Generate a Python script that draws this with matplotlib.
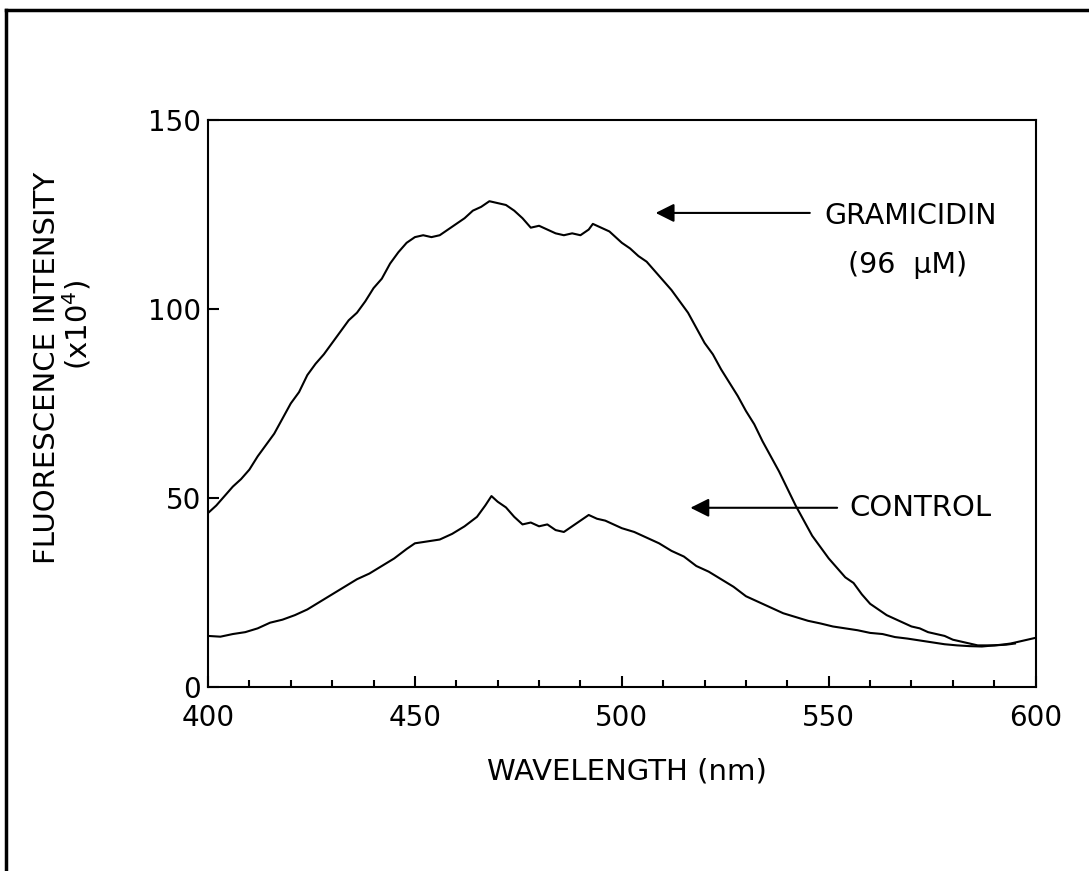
import matplotlib
matplotlib.use("Agg")
from matplotlib import pyplot as plt
from matplotlib.lines import Line2D
from matplotlib.ticker import MultipleLocator

# Gramicidin (96 uM) spectrum
gram_nm = [400, 402, 404, 406, 408, 410, 412, 414, 416, 418, 420, 422, 424, 426, 428,
           430, 432, 434, 436, 438, 440, 442, 444, 446, 448, 450, 452, 454, 456, 458,
           460, 462, 464, 466, 468, 470, 472, 474, 476, 478, 480, 482, 484, 486, 488,
           490, 492, 493, 495, 497, 500, 502, 504, 506, 508, 510, 512, 514, 516, 518,
           520, 522, 524, 526, 528, 530, 532, 534, 536, 538, 540, 542, 544, 546, 548,
           550, 552, 554, 556, 558, 560, 562, 564, 566, 568, 570, 572, 574, 576, 578,
           580, 582, 584, 586, 588, 590, 592, 594, 596, 598, 600]
gram_val = [46, 48, 50.5, 53, 55, 57.5, 61, 64, 67, 71, 75, 78, 82.5, 85.5, 88,
            91, 94, 97, 99, 102, 105.5, 108, 112, 115, 117.5, 119, 119.5, 119, 119.5, 121,
            122.5, 124, 126, 127, 128.5, 128, 127.5, 126, 124, 121.5, 122, 121, 120, 119.5, 120,
            119.5, 121, 122.5, 121.5, 120.5, 117.5, 116, 114, 112.5, 110, 107.5, 105, 102, 99, 95,
            91, 88, 84, 80.5, 77, 73, 69.5, 65, 61, 57, 52.5, 48, 44, 40, 37,
            34, 31.5, 29, 27.5, 24.5, 22, 20.5, 19, 18, 17, 16, 15.5, 14.5, 14, 13.5,
            12.5, 12, 11.5, 11, 11, 11, 11.2, 11.5, 12, 12.5, 13]

# Control spectrum
ctrl_nm = [400, 403, 406, 409, 412, 415, 418, 421, 424, 427, 430, 433, 436, 439, 442,
           445, 448, 450, 453, 456, 459, 462, 465, 467, 468.5, 470, 472, 474, 476, 478,
           480, 482, 484, 486, 488, 490, 492, 494, 496, 498, 500, 503, 506, 509, 512,
           515, 518, 521, 524, 527, 530, 533, 536, 539, 542, 545, 548, 551, 554, 557,
           560, 563, 566, 569, 572, 575, 578, 581, 584, 587, 590, 593, 595]
ctrl_val = [13.5, 13.3, 14, 14.5, 15.5, 17, 17.8, 19, 20.5, 22.5, 24.5, 26.5, 28.5, 30, 32,
            34, 36.5, 38, 38.5, 39, 40.5, 42.5, 45, 48, 50.5, 49, 47.5, 45, 43, 43.5,
            42.5, 43, 41.5, 41, 42.5, 44, 45.5, 44.5, 44, 43, 42, 41, 39.5, 38, 36,
            34.5, 32, 30.5, 28.5, 26.5, 24, 22.5, 21, 19.5, 18.5, 17.5, 16.8, 16, 15.5, 15,
            14.3, 14, 13.2, 12.8, 12.3, 11.8, 11.3, 11, 10.8, 10.7, 11, 11.2, 11.5]

plt.rcParams['font.family'] = ['DejaVu Sans']

fig = plt.figure(figsize=(10.89, 8.71), dpi=100)
ax = fig.add_axes([0.191, 0.2113, 0.760, 0.651])

ax.plot(gram_nm, gram_val, color="black", lw=1.5)
ax.plot(ctrl_nm, ctrl_val, color="black", lw=1.5)

ax.set_xlim(400, 600)
ax.set_ylim(0, 150)
ax.xaxis.set_major_locator(MultipleLocator(50))
ax.xaxis.set_minor_locator(MultipleLocator(10))
ax.yaxis.set_major_locator(MultipleLocator(50))
ax.tick_params(axis="both", which="major", direction="in", length=8, width=1.5,
               labelsize=20)
ax.tick_params(axis="x", which="major", pad=12)
ax.tick_params(axis="y", which="major", pad=5)
ax.tick_params(axis="x", which="minor", direction="in", length=5, width=1.5)
for s in ax.spines.values():
    s.set_linewidth(1.5)

fig.text(0.576, 0.114, "WAVELENGTH (nm)", fontsize=21, ha="center", va="center")
fig.text(0.043, 0.578, "FLUORESCENCE INTENSITY", rotation=90, fontsize=21,
         ha="center", va="center")
fig.text(0.071, 0.627, r"(x10$^4$)", rotation=90, fontsize=21,
         ha="center", va="center")

# labels with arrows
arrow = dict(arrowstyle="-|>", color="black", lw=1.5, mutation_scale=28)
ax.annotate("", xy=(507.5, 125.4), xytext=(546.1, 125.4), arrowprops=arrow)
ax.text(549, 124.5, "GRAMICIDIN", fontsize=20.5, ha="left", va="center")
ax.text(569, 111.5, "(96  µM)", fontsize=20.5, ha="center", va="center")
ax.annotate("", xy=(515.9, 47.4), xytext=(552.7, 47.4), arrowprops=arrow)
ax.text(555, 47.4, "CONTROL", fontsize=21, ha="left", va="center")

# frame around the page
fig.add_artist(Line2D([0.0055, 1.0], [0.9885, 0.9885], color="black", lw=2.5))
fig.add_artist(Line2D([0.0055, 0.0055], [0.0, 0.9885], color="black", lw=2.5))

fig.savefig("out.png", dpi=100)
